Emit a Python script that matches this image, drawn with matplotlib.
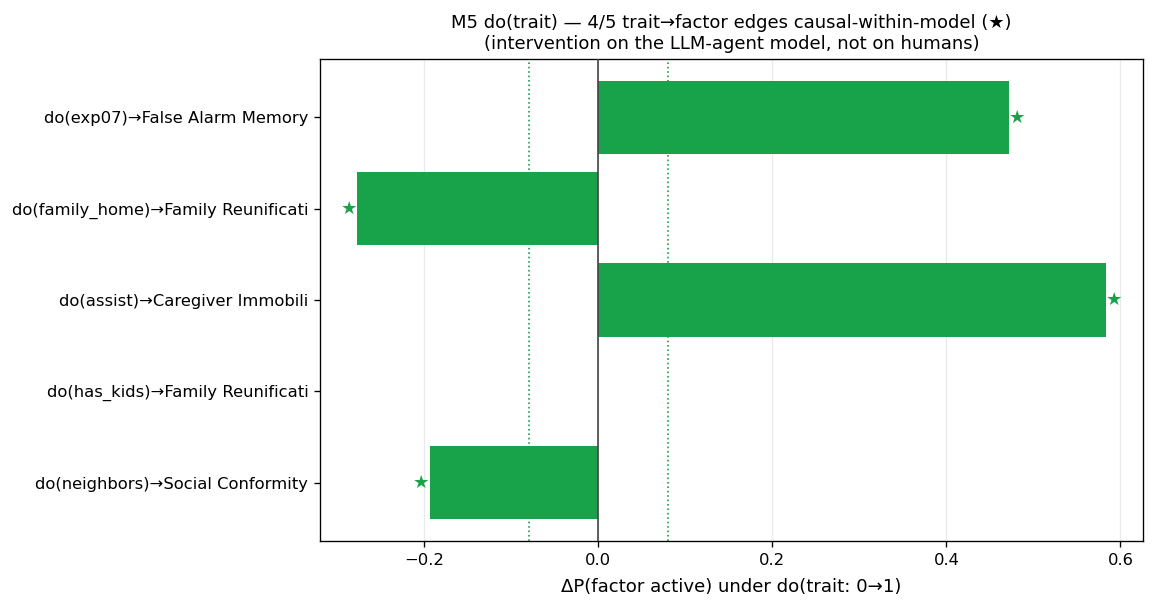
import matplotlib
matplotlib.use('Agg')
import matplotlib.pyplot as plt

# edges (top to bottom) and effect sizes
labels = ['do(exp07)→False Alarm Memory',
          'do(family_home)→Family Reunificati',
          'do(assist)→Caregiver Immobili',
          'do(has_kids)→Family Reunificati',
          'do(neighbors)→Social Conformity']
delta = [0.472, -0.277, 0.583, 0.0, -0.194]
causal = [True, True, True, False, True]
threshold = 0.08

green = '#18a34a'

fig = plt.figure(figsize=(1156 / 120, 610 / 120), dpi=120)
ax = fig.add_axes([320 / 1156, 1 - 541 / 610, (1143 - 320) / 1156, (541 - 59) / 610])

ypos = list(range(len(labels)))
ax.barh(ypos, delta, height=0.8, color=green, zorder=2)
ax.axvline(0, color='#444444', lw=1, zorder=3)
ax.axvline(threshold, color=green, ls=':', lw=1, zorder=1)
ax.axvline(-threshold, color=green, ls=':', lw=1, zorder=1)

for y, v, c in zip(ypos, delta, causal):
    if c:
        if v >= 0:
            ax.text(v, y, '★', color=green, ha='left', va='center', fontsize=11)
        else:
            ax.text(v, y, '★', color=green, ha='right', va='center', fontsize=11)

ax.set_yticks(ypos)
ax.set_yticklabels(labels)
ax.tick_params(labelsize=9.8)
ax.invert_yaxis()
ax.grid(axis='x', color='#dddddd', alpha=0.6, lw=0.8, zorder=0)
ax.set_axisbelow(True)
ax.set_xlabel('ΔP(factor active) under do(trait: 0→1)', fontsize=10.85, labelpad=6.5)
ax.set_title('M5 do(trait) — 4/5 trait→factor edges causal-within-model (★)\n'
             '(intervention on the LLM-agent model, not on humans)', fontsize=10.8)

fig.savefig('out.png', dpi=120)
